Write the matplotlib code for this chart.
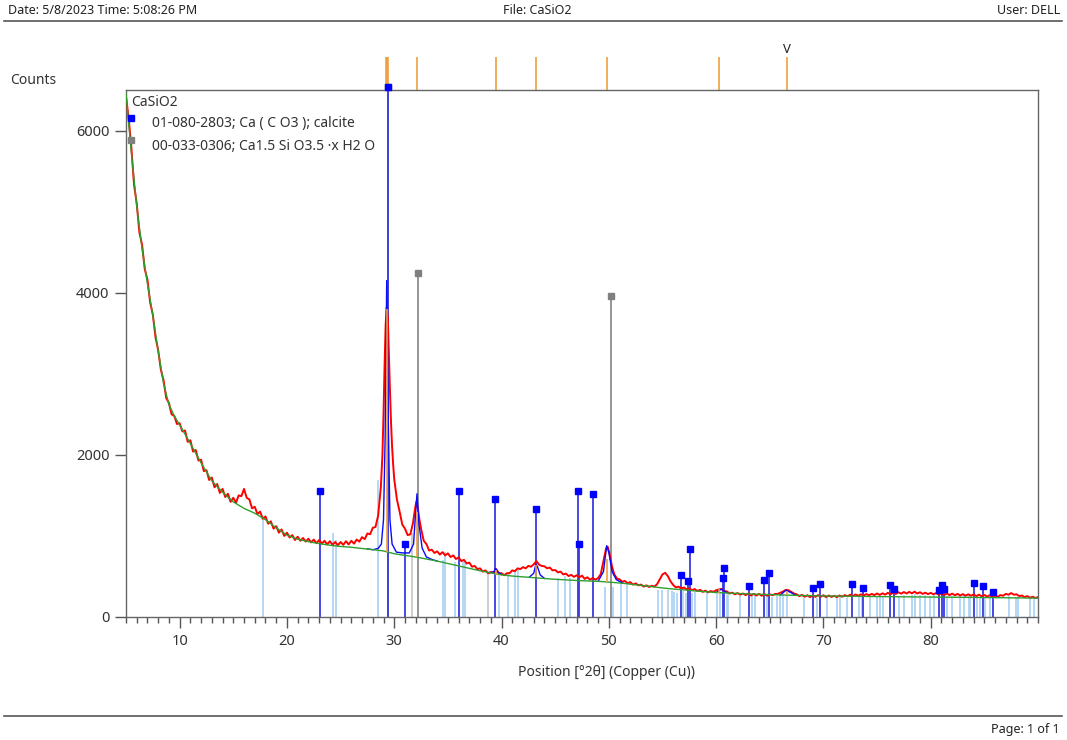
import matplotlib
matplotlib.use("Agg")
import matplotlib.pyplot as plt
from matplotlib.ticker import MultipleLocator
import numpy as np

plt.rcParams['font.family'] = ['Noto Sans', 'DejaVu Sans']

measured = [
    (5.00, 6420), (5.25, 6150), (5.50, 5790), (5.75, 5330), (6.00, 5100), (6.25, 4740),
    (6.50, 4590), (6.75, 4290), (7.00, 4160), (7.25, 3880), (7.50, 3730), (7.75, 3450),
    (8.00, 3290), (8.25, 3050), (8.50, 2920), (8.75, 2700), (9.00, 2640), (9.25, 2500),
    (9.50, 2480), (9.75, 2380), (10.00, 2390), (10.25, 2290), (10.50, 2300), (10.75, 2160),
    (11.00, 2180), (11.25, 2040), (11.50, 2060), (11.75, 1930), (12.00, 1940), (12.25, 1800),
    (12.50, 1810), (12.75, 1690), (13.00, 1720), (13.25, 1600), (13.50, 1640), (13.75, 1530),
    (14.00, 1580), (14.25, 1480), (14.50, 1520), (14.75, 1420), (15.00, 1470), (15.25, 1410),
    (15.50, 1500), (15.75, 1490), (16.00, 1580), (16.25, 1470), (16.50, 1450), (16.75, 1340),
    (17.00, 1360), (17.25, 1270), (17.50, 1300), (17.75, 1210), (18.00, 1240), (18.25, 1150),
    (18.50, 1180), (18.75, 1090), (19.00, 1120), (19.25, 1040), (19.50, 1080), (19.75, 1000),
    (20.00, 1040), (20.25, 980), (20.50, 1010), (20.75, 950), (21.00, 990), (21.25, 940),
    (21.50, 975), (21.75, 930), (22.00, 965), (22.25, 920), (22.50, 955), (22.75, 910),
    (23.00, 950), (23.25, 905), (23.50, 940), (23.75, 895), (24.00, 935), (24.25, 890),
    (24.50, 925), (24.75, 885), (25.00, 925), (25.25, 890), (25.50, 935), (25.75, 895),
    (26.00, 940), (26.25, 905), (26.50, 955), (26.75, 930), (27.00, 985), (27.25, 960),
    (27.50, 1030), (27.75, 1020), (28.00, 1100), (28.25, 1110), (28.50, 1250), (28.75, 1600),
    (28.90, 2000), (29.00, 2500), (29.10, 3100), (29.20, 3600), (29.30, 3820), (29.40, 3700),
    (29.50, 3250), (29.60, 2800), (29.70, 2400), (29.80, 2100), (29.90, 1880), (30.00, 1700),
    (30.25, 1450), (30.50, 1300), (30.75, 1140), (31.00, 1090), (31.25, 1010), (31.50, 1020),
    (31.75, 1160), (31.90, 1300), (32.05, 1420), (32.20, 1340), (32.35, 1200), (32.50, 1090),
    (32.75, 940), (33.00, 900), (33.25, 820), (33.50, 830), (33.75, 790), (34.00, 810),
    (34.25, 770), (34.50, 800), (34.75, 760), (35.00, 785), (35.25, 740), (35.50, 760),
    (35.75, 715), (36.00, 735), (36.25, 690), (36.50, 705), (36.75, 660), (37.00, 670),
    (37.25, 620), (37.50, 630), (37.75, 590), (38.00, 600), (38.25, 560), (38.50, 575),
    (38.75, 540), (39.00, 555), (39.25, 545), (39.50, 590), (39.75, 540), (40.00, 540),
    (40.25, 515), (40.50, 540), (40.75, 540), (41.00, 575), (41.25, 565), (41.50, 600),
    (41.75, 590), (42.00, 615), (42.25, 600), (42.50, 630), (42.75, 620), (43.00, 650),
    (43.25, 690), (43.50, 645), (43.75, 630), (44.00, 625), (44.25, 600), (44.50, 610),
    (44.75, 575), (45.00, 580), (45.25, 550), (45.50, 560), (45.75, 525), (46.00, 535),
    (46.25, 505), (46.50, 520), (46.75, 495), (47.00, 515), (47.25, 490), (47.50, 510),
    (47.75, 470), (48.00, 490), (48.25, 460), (48.50, 480), (48.75, 460), (49.00, 480),
    (49.25, 530), (49.50, 690), (49.75, 850), (49.90, 865), (50.10, 760), (50.30, 620),
    (50.50, 530), (50.75, 475), (51.00, 465), (51.25, 435), (51.50, 445), (51.75, 415),
    (52.00, 430), (52.25, 400), (52.50, 415), (52.75, 390), (53.00, 400), (53.25, 375),
    (53.50, 390), (53.75, 370), (54.00, 385), (54.25, 375), (54.50, 405), (54.75, 465),
    (55.00, 525), (55.25, 545), (55.50, 505), (55.75, 440), (56.00, 395), (56.25, 365),
    (56.50, 375), (56.75, 350), (57.00, 365), (57.25, 340), (57.50, 355), (57.75, 330),
    (58.00, 345), (58.25, 320), (58.50, 335), (58.75, 310), (59.00, 325), (59.25, 305),
    (59.50, 320), (59.75, 310), (60.00, 330), (60.25, 340), (60.50, 345), (60.75, 320),
    (61.00, 315), (61.25, 290), (61.50, 300), (61.75, 280), (62.00, 295), (62.25, 275),
    (62.50, 290), (62.75, 270), (63.00, 290), (63.25, 265), (63.50, 285), (63.75, 265),
    (64.00, 285), (64.25, 262), (64.50, 282), (64.75, 262), (65.00, 280), (65.25, 268),
    (65.50, 285), (65.75, 285), (66.00, 300), (66.25, 315), (66.50, 335), (66.75, 330),
    (67.00, 310), (67.25, 290), (67.50, 280), (67.75, 258), (68.00, 272), (68.25, 250),
    (68.50, 268), (68.75, 245), (69.00, 265), (69.25, 248), (69.50, 270), (69.75, 250),
    (70.00, 268), (70.25, 245), (70.50, 265), (70.75, 248), (71.00, 262), (71.25, 245),
    (71.50, 265), (71.75, 250), (72.00, 270), (72.25, 255), (72.50, 275), (72.75, 258),
    (73.00, 278), (73.25, 262), (73.50, 280), (73.75, 265), (74.00, 282), (74.25, 268),
    (74.50, 285), (74.75, 270), (75.00, 290), (75.25, 272), (75.50, 292), (75.75, 276),
    (76.00, 298), (76.25, 280), (76.50, 302), (76.75, 285), (77.00, 305), (77.25, 288),
    (77.50, 308), (77.75, 290), (78.00, 310), (78.25, 292), (78.50, 312), (78.75, 290),
    (79.00, 305), (79.25, 285), (79.50, 300), (79.75, 282), (80.00, 298), (80.25, 280),
    (80.50, 295), (80.75, 275), (81.00, 292), (81.25, 272), (81.50, 290), (81.75, 270),
    (82.00, 288), (82.25, 268), (82.50, 285), (82.75, 265), (83.00, 282), (83.25, 262),
    (83.50, 280), (83.75, 262), (84.00, 278), (84.25, 258), (84.50, 275), (84.75, 255),
    (85.00, 272), (85.25, 252), (85.50, 268), (85.75, 250), (86.00, 265), (86.25, 250),
    (86.50, 270), (86.75, 262), (87.00, 285), (87.25, 275), (87.50, 295), (87.75, 275),
    (88.00, 280), (88.25, 258), (88.50, 265), (88.75, 245), (89.00, 258), (89.25, 238),
    (89.50, 250), (89.75, 235), (90.00, 245),
]

# background (green)
bg_x = [5.0, 5.5, 6.0, 6.5, 7.0, 7.5, 8.0, 8.5, 9.0, 9.5, 10, 11, 12, 13, 14, 15, 16, 17,
        18, 19, 20, 21, 22, 23, 24, 25, 26, 27, 28, 29, 30, 31, 32, 33, 34, 35, 36, 37, 38,
        39, 40, 41, 42, 43, 44, 45, 46, 47, 48, 49, 50, 51, 52, 53, 54, 55, 56, 57, 58, 59,
        60, 62, 64, 66, 68, 70, 75, 80, 85, 90]
bg_y = [6450, 5730, 5070, 4540, 4110, 3720, 3280, 2880, 2620, 2480, 2370, 2140, 1900, 1680,
        1540, 1420, 1340, 1280, 1200, 1100, 1010, 960, 930, 905, 885, 870, 860, 845, 830, 815,
        780, 760, 740, 715, 690, 660, 630, 600, 570, 545, 520, 505, 495, 485, 475, 465, 458,
        450, 445, 440, 430, 420, 405, 390, 375, 358, 345, 335, 322, 312, 302, 290, 280, 272,
        265, 260, 252, 246, 240, 233]

# fitted profile (blue), only where it departs from the background
profile = [
    [(27.5, 840), (28.0, 830), (28.5, 845), (28.8, 900), (29.0, 1200), (29.15, 2200),
     (29.3, 4150), (29.45, 2400), (29.6, 1200), (29.8, 900), (30.2, 800), (30.8, 790),
     (31.4, 790), (31.8, 900), (32.0, 1300), (32.12, 1520), (32.3, 1150), (32.6, 850),
     (33.0, 740), (33.5, 710), (34.0, 690)],
    [(38.9, 545), (39.3, 560), (39.45, 600), (39.6, 560), (40.0, 522)],
    [(42.6, 492), (43.0, 540), (43.2, 650), (43.35, 620), (43.6, 520), (44.0, 476)],
    [(49.0, 440), (49.5, 560), (49.8, 880), (50.0, 800), (50.3, 560), (50.7, 460), (51.3, 418)],
    [(60.0, 302), (60.5, 345), (61.0, 298)],
    [(66.0, 272), (66.5, 330), (67.0, 300), (67.4, 268)],
]

# peak list (orange)
peak_pos = [29.35, 32.12, 39.45, 43.25, 49.85, 60.3, 66.6]
peak_base = [800, 740, 520, 490, 432, 300, 270]
peak_top = [3800, 1300, 585, 640, 720, 340, 320]

# 01-080-2803 calcite reference lines
calcite_pos = [23.05, 29.40, 31.00, 36.00, 39.40, 43.20, 47.10, 47.25, 48.50, 56.70, 57.35,
               57.57, 60.60, 60.78, 63.10, 64.50, 64.94, 69.00, 69.64, 72.66, 73.65, 76.20,
               76.60, 80.80, 81.05, 81.27, 84.00, 84.84, 85.78]
calcite_int = [1556, 6540, 900, 1556, 1457, 1333, 1556, 900, 1518, 518, 448, 840, 477, 609,
               383, 457, 539, 354, 407, 407, 354, 395, 346, 333, 395, 342, 416, 383, 313]

# 00-033-0306 C-S-H reference lines
csh_pos = [29.45, 32.17, 50.18]
csh_int = [6540, 4243, 3954]

# faint lines
faint_pos = [17.75, 24.30, 24.60, 28.50, 34.50, 34.75, 35.70, 36.37, 36.60, 39.80, 40.60,
             41.30, 41.56, 45.30, 45.90, 46.40, 49.60, 50.40, 51.10, 51.70, 54.62, 54.93,
             55.55, 55.93, 56.11, 56.33, 56.95, 57.17, 57.79, 58.04, 59.13, 60.12, 60.37,
             61.00, 61.15, 62.24, 63.33, 63.64, 64.73, 65.20, 65.66, 65.97, 66.28, 66.60,
             68.15, 69.39, 70.33, 71.26, 71.57, 72.19, 73.28, 73.59, 74.37, 74.99, 75.30,
             75.60, 76.54, 77.00, 77.47, 78.25, 78.56, 79.03, 79.50, 79.96, 80.27, 81.52,
             81.99, 82.76, 83.07, 83.54, 83.69, 84.32, 84.63, 85.09, 85.56, 87.27, 87.93,
             88.09, 89.29, 89.60]
faint_int = [1200, 1040, 950, 1690, 700, 800, 680, 700, 680, 520, 540, 580, 580, 480, 500,
             480, 370, 370, 415, 395, 330, 330, 330, 320, 310, 300, 320, 300, 290, 310, 290,
             280, 290, 270, 280, 260, 260, 255, 260, 250, 255, 270, 280, 270, 240, 240, 240,
             235, 245, 240, 250, 255, 260, 255, 262, 255, 270, 265, 275, 270, 280, 270, 275,
             265, 270, 260, 255, 262, 255, 260, 250, 255, 250, 248, 245, 255, 250, 245, 230,
             225]
grey_faint_pos = [31.70, 38.76]
grey_faint_int = [1040, 540]

x_ticks = [10, 20, 30, 40, 50, 60, 70, 80]
y_ticks = [0, 2000, 4000, 6000]

fig = plt.figure(figsize=(10.67, 7.40), dpi=100)
ax = fig.add_axes([126 / 1067, 1 - 617 / 740, 912 / 1067, 527 / 740])

ax.vlines(faint_pos, 0, faint_int, color='#a9d1f2', lw=1.2, zorder=1)
ax.vlines(grey_faint_pos, 0, grey_faint_int, color='#c4c4c4', lw=1.2, zorder=1)
ax.vlines(csh_pos, 0, csh_int, color='#8c8c8c', lw=1.3, zorder=2)
ax.vlines(calcite_pos, 0, calcite_int, color='#3a3ae0', lw=1.3, zorder=2)

mx, my = zip(*measured)
ax.plot(mx, my, color='#ff0000', lw=1.4, zorder=3)
for seg in profile:
    px, py = zip(*seg)
    ax.plot(px, py, color='#0a0aff', lw=1.0, zorder=3.5)
ax.plot(bg_x, bg_y, color='#2ea02e', lw=1.0, zorder=4)
ax.vlines(peak_pos, peak_base, peak_top, color='#f0a040', lw=1.2, zorder=4.5)

ax.plot(csh_pos, csh_int, 's', color='#808080', ms=4.5, zorder=6, clip_on=False)
ax.plot(calcite_pos, calcite_int, 's', color='#0000ff', ms=4.5, zorder=6, clip_on=False)

# peak list markers above the plot
xt = ax.get_xaxis_transform()
ax.vlines(peak_pos, 1.0, 1.063, transform=xt, color='#f0a040', lw=1.2, clip_on=False)
ax.vlines([peak_pos[0]], 1.0, 1.063, transform=xt, color='#f0a040', lw=2.6, clip_on=False)
ax.text(peak_pos[-1], 1.064, 'V', transform=xt, ha='center', va='bottom', fontsize=9.5,
        color='#222222')

ax.set_xlim(5, 90)
ax.set_ylim(0, 6500)
ax.set_xticks(x_ticks)
ax.xaxis.set_minor_locator(MultipleLocator(1))
ax.set_yticks(y_ticks)
ax.tick_params(axis='both', which='major', direction='out', length=8, width=1,
               color='#555555', labelsize=10.5, labelcolor='#333333', pad=4)
ax.tick_params(axis='x', which='minor', direction='out', length=4, width=1, color='#555555')
for s in ax.spines.values():
    s.set_color('#666666')
    s.set_linewidth(1.0)

# legend block
ax.text(0.006, 0.977, 'CaSiO2', transform=ax.transAxes, ha='left', va='center',
        fontsize=10, color='#333333')
ax.text(0.0285, 0.9355, '01-080-2803; Ca ( C O3 ); calcite', transform=ax.transAxes,
        ha='left', va='center', fontsize=10, color='#333333')
ax.text(0.0285, 0.8937, '00-033-0306; Ca1.5 Si O3.5 \u00b7x H2 O', transform=ax.transAxes,
        ha='left', va='center', fontsize=10, color='#333333')
ax.plot([0.0055], [0.947], 's', color='#0000ff', ms=5, transform=ax.transAxes,
        clip_on=False, zorder=7)
ax.plot([0.006], [0.905], 's', color='#808080', ms=5, transform=ax.transAxes,
        clip_on=False, zorder=7)

fig.text(33 / 1067, 1 - 80 / 740, 'Counts', ha='center', va='center', fontsize=10,
         color='#333333')
fig.text(607 / 1067, 1 - 672 / 740, 'Position [\u00b02\u03b8] (Copper (Cu))', ha='center',
         va='center', fontsize=10, color='#333333')

# page header / footer
fig.text(8 / 1067, 1 - 10 / 740, 'Date: 5/8/2023 Time: 5:08:26 PM', ha='left',
         va='center', fontsize=9, color='#222222')
fig.text(537 / 1067, 1 - 10 / 740, 'File: CaSiO2', ha='center', va='center', fontsize=9,
         color='#222222')
fig.text(1060 / 1067, 1 - 10 / 740, 'User: DELL', ha='right', va='center', fontsize=9,
         color='#222222')
fig.add_artist(plt.Line2D([4 / 1067, 1062 / 1067], [1 - 21 / 740, 1 - 21 / 740],
                          color='#555555', lw=1.2))
fig.add_artist(plt.Line2D([4 / 1067, 1062 / 1067], [1 - 716 / 740, 1 - 716 / 740],
                          color='#555555', lw=1.2))
fig.text(1060 / 1067, 1 - 729 / 740, 'Page: 1 of 1', ha='right', va='center', fontsize=9,
         color='#222222')

fig.savefig('out.png', dpi=100)
